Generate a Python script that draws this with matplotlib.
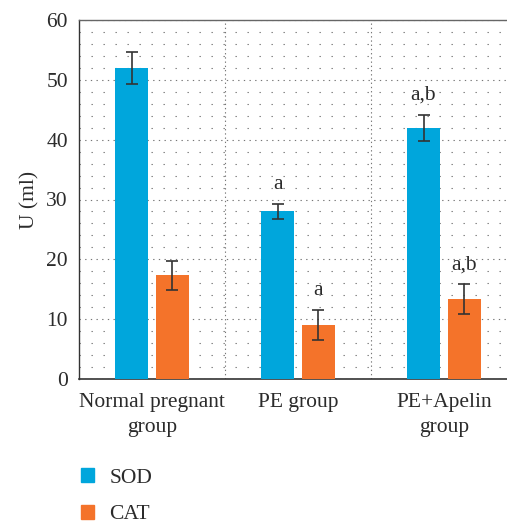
import matplotlib.pyplot as plt
import numpy as np
from matplotlib.patches import Patch
from matplotlib.ticker import MultipleLocator

groups = ["Normal pregnant\ngroup", "PE group", "PE+Apelin\ngroup"]
sod = [52.0, 28.0, 42.0]
sod_err = [2.7, 1.3, 2.2]
cat = [17.3, 9.1, 13.3]
cat_err = [2.5, 2.5, 2.5]
sod_marks = ["", "a", "a,b"]
cat_marks = ["", "a", "a,b"]

blue = "#00A6DC"
orange = "#F4732A"
txt = "#2b2b2b"
fs = 15.5

plt.rcParams['font.family'] = ['Liberation Serif', 'DejaVu Serif']

fig = plt.figure(figsize=(5.07, 5.24), dpi=100)
ax = fig.add_axes([79 / 507, 145 / 524, 428 / 507, 359 / 524])

x = np.arange(len(groups))
w = 0.226
off = 0.14
ax.bar(x - off, sod, w, color=blue, zorder=3)
ax.bar(x + off, cat, w, color=orange, zorder=3)
ekw = dict(fmt="none", ecolor="#333333", elinewidth=1.2, capsize=4, capthick=1.2, zorder=4)
ax.errorbar(x - off, sod, yerr=sod_err, **ekw)
ax.errorbar(x + off, cat, yerr=cat_err, **ekw)

for xi, v, e, m in zip(x - off, sod, sod_err, sod_marks):
    if m:
        ax.text(xi, v + e + 1.6, m, ha="center", va="bottom", fontsize=fs, color=txt)
for xi, v, e, m in zip(x + off, cat, cat_err, cat_marks):
    if m:
        ax.text(xi, v + e + 1.6, m, ha="center", va="bottom", fontsize=fs, color=txt)

ax.set_ylim(0, 60)
ax.set_xlim(-0.5, -0.5 + 428 / 146)
ax.yaxis.set_major_locator(MultipleLocator(10))
ax.yaxis.set_minor_locator(MultipleLocator(2))
ax.set_xticks(x)
ax.set_xticklabels(groups, fontsize=fs, color=txt, linespacing=1.45)
ax.tick_params(axis="both", which="both", length=0, labelsize=fs, labelcolor=txt)
ax.tick_params(axis="y", pad=8)
ax.tick_params(axis="x", pad=10)
ax.set_ylabel("U (ml)", fontsize=fs, color=txt, labelpad=5)

ax.grid(axis="y", which="major", color="#777777", linewidth=0.8, linestyle=(0, (1.2, 3.9)), zorder=0)
ax.grid(axis="y", which="minor", color="#777777", linewidth=0.8, linestyle=(0, (1.2, 9.6)), zorder=0)
for sep in [0.5, 1.5]:
    ax.axvline(sep, color="#777777", linewidth=0.8, linestyle=(0, (1.2, 2.6)), zorder=0)

ax.spines["right"].set_visible(False)
ax.spines["top"].set_color("#666666")
ax.spines["top"].set_linewidth(1.0)
ax.spines["left"].set_color("#333333")
ax.spines["bottom"].set_color("#333333")
ax.spines["left"].set_linewidth(1.0)
ax.spines["bottom"].set_linewidth(1.2)

handles = [Patch(color=blue, label="SOD"), Patch(color=orange, label="CAT")]
fig.legend(handles=handles, loc="upper left", bbox_to_anchor=(62 / 507, 1 - 449 / 524),
           frameon=False, fontsize=fs, labelcolor=txt, handlelength=0.6, handleheight=0.6,
           handletextpad=0.7, labelspacing=0.8)

fig.savefig("out.png", dpi=100)
